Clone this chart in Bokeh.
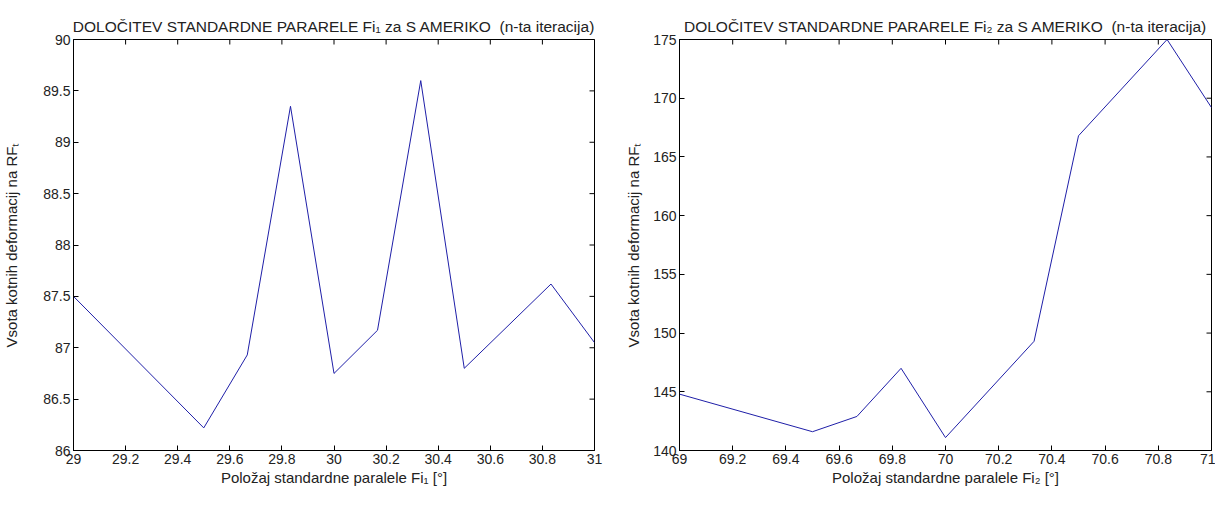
import math
from bokeh.plotting import figure
from bokeh.layouts import row
from bokeh.models import FixedTicker, Range1d
from bokeh.embed import file_html
from bokeh.resources import INLINE

# ---- data ----
x1 = [29.0, 29.5, 29.667, 29.833, 30.0, 30.167, 30.333, 30.5, 30.833, 31.0]
y1 = [87.5, 86.22, 86.93, 89.35, 86.75, 87.17, 89.6, 86.8, 87.62, 87.05]

x2 = [69.0, 69.5, 69.667, 69.833, 70.0, 70.333, 70.5, 70.833, 71.0]
y2 = [144.8, 141.6, 142.9, 147.0, 141.1, 149.3, 166.8, 175.0, 169.2]

xticks1 = [29.0, 29.2, 29.4, 29.6, 29.8, 30.0, 30.2, 30.4, 30.6, 30.8, 31.0]
xlabels1 = ["29", "29.2", "29.4", "29.6", "29.8", "30", "30.2", "30.4", "30.6", "30.8", "31"]
yticks1 = [86.0, 86.5, 87.0, 87.5, 88.0, 88.5, 89.0, 89.5, 90.0]
ylabels1 = ["86", "86.5", "87", "87.5", "88", "88.5", "89", "89.5", "90"]

xticks2 = [69.0, 69.2, 69.4, 69.6, 69.8, 70.0, 70.2, 70.4, 70.6, 70.8, 71.0]
xlabels2 = ["69", "69.2", "69.4", "69.6", "69.8", "70", "70.2", "70.4", "70.6", "70.8", "71"]
yticks2 = [140, 145, 150, 155, 160, 165, 170, 175]
ylabels2 = ["140", "145", "150", "155", "160", "165", "170", "175"]

title1 = "DOLOČITEV STANDARDNE PARARELE Fi₁ za S AMERIKO \u00a0(n-ta iteracija)"
title2 = "DOLOČITEV STANDARDNE PARARELE Fi₂ za S AMERIKO \u00a0(n-ta iteracija)"
xlab1 = "Položaj standardne paralele Fi₁ [°]"
xlab2 = "Položaj standardne paralele Fi₂ [°]"
ylab = "Vsota kotnih deformacij na RFₜ"

LINE = "#1f1fa8"
TXT = "#222222"
TICK_FONT = "'Liberation Sans Narrow', 'Liberation Sans', sans-serif"
LAB_FONT = "'Liberation Sans', Arial, sans-serif"


def style_axis(ax, ticks, labels, standoff):
    ax.ticker = FixedTicker(ticks=ticks)
    ax.major_label_overrides = {t: l for t, l in zip(ticks, labels)}
    ax.major_tick_in = 5
    ax.major_tick_out = 0
    ax.minor_tick_in = 0
    ax.minor_tick_out = 0
    ax.axis_line_color = "black"
    ax.major_tick_line_color = "black"
    ax.major_label_text_color = TXT
    ax.major_label_text_font = TICK_FONT
    ax.major_label_text_font_size = "14px"
    ax.major_label_standoff = standoff
    ax.axis_label_text_font = LAB_FONT
    ax.axis_label_text_font_size = "15px"
    ax.axis_label_text_font_style = "normal"
    ax.axis_label_text_color = TXT


def make(xs, ys, xr, yr, xt, xl, yt, yl, title, xlabel, fw, min_left, min_right, ylab_standoff):
    p = figure(
        output_backend="svg", toolbar_location=None,
        frame_width=fw, frame_height=411,
        x_range=Range1d(*xr), y_range=Range1d(*yr),
        min_border_left=min_left, min_border_right=min_right,
        min_border_top=39, min_border_bottom=40,
    )
    p.xgrid.visible = False
    p.ygrid.visible = False
    p.outline_line_color = "black"
    p.outline_line_alpha = 1
    p.background_fill_color = "white"
    p.border_fill_color = "white"

    p.title.text = title
    p.title.align = "center"
    p.title.text_font = LAB_FONT
    p.title.text_font_size = "15.5px"
    p.title.text_font_style = "normal"
    p.title.text_color = TXT
    p.title.standoff = 10

    style_axis(p.xaxis[0], xt, xl, 3)
    style_axis(p.yaxis[0], yt, yl, 3)
    p.xaxis[0].axis_label = xlabel
    p.yaxis[0].axis_label = ylab
    p.xaxis[0].axis_label_standoff = 2
    p.yaxis[0].axis_label_standoff = ylab_standoff

    # inward tick marks on the top and right edges of the box (clipped to frame)
    p.scatter(xt, [yr[1]] * len(xt), marker="dash", angle=math.pi / 2, size=10,
              line_color="black", line_width=1)
    p.scatter([xr[1]] * len(yt), yt, marker="dash", size=10,
              line_color="black", line_width=1)

    p.line(xs, ys, line_color=LINE, line_width=1)
    return p


p1 = make(x1, y1, (29, 31), (86, 90), xticks1, xlabels1, yticks1, ylabels1,
          title1, xlab1, 521, 69, 12, 20)
p2 = make(x2, y2, (69, 71), (140, 175), xticks2, xlabels2, yticks2, ylabels2,
          title2, xlab2, 532, 73, 4, 8)

layout = row(p1, p2)
open("out.html", "w").write(file_html(layout, INLINE))
